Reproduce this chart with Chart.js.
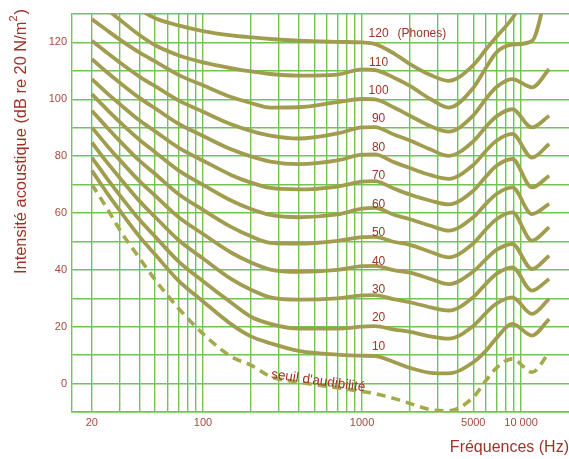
<!DOCTYPE html>
<html>
<head>
<meta charset="utf-8">
<script src="https://cdn.jsdelivr.net/npm/chart.js@4.4.1/dist/chart.umd.min.js"></script>
<style>
body{margin:0;background:#fff}
#wrap{width:569px;height:459px}
</style>
</head>
<body>
<div id="wrap"><canvas id="chart" width="569" height="459"></canvas></div>
<script>
const freqs = [20, 25, 30, 40, 50, 70, 100, 150, 200, 265, 400, 700, 1000, 1200, 1600, 2000, 2700, 3500, 5000, 6000, 7000, 8800, 11700, 15000]

// sound level (dB) of each equal-loudness contour, null = off the chart
const phon120 = [null, null, null, 131.5, 128.5, 126, 124, 122.5, 121.8, 121.2, 120.6, 120.2, 120, 119.5, 116, 112.4, 108.5, 106.5, 112, 117.5, 122, 128.5, 140, null]
const phon110 = [null, 131.5, 128, 122.5, 119, 115.5, 113, 111, 109.8, 108.9, 108.3, 108.7, 110.5, 110.3, 107.5, 104.7, 100, 97.1, 104, 111, 116.5, 119.2, 120.5, 142]
const phon100 = [128.2, 124.2, 121, 116.4, 113.3, 108.6, 104.9, 100.8, 98.7, 97.1, 97.2, 99, 100.1, 100, 97, 94.2, 90.5, 88.6, 94.3, 100.1, 104.3, 107.1, 104.2, 110.6]
const phon90 = [120.6, 116.3, 112.9, 107.9, 104.6, 99.6, 95.6, 91.2, 88.9, 87.2, 86.2, 88, 90.1, 90.2, 87.5, 85.5, 82.3, 80.1, 85.2, 90.3, 94, 96.5, 90.1, 94.2]
const phon80 = [114.1, 109.4, 105.8, 100.4, 96.8, 91.4, 87.1, 82.4, 79.9, 78.1, 77.2, 78.5, 80.5, 80.6, 77.8, 75.8, 73.3, 72, 76.9, 81.8, 85.4, 87.8, 79.5, 84.3]
const phon70 = [107.1, 102.1, 98.3, 92.5, 88.7, 83, 78.4, 73.4, 70.7, 68.8, 68.3, 69.3, 71, 71.2, 68.5, 66.5, 64.3, 63, 67.8, 72.8, 76.6, 79, 69, 73.1]
const phon60 = [101.8, 96.3, 92, 85.7, 81.4, 75, 69.9, 64.4, 61.4, 59.3, 58.5, 59.5, 61.5, 61.8, 59.3, 57.8, 55.5, 53.8, 58.5, 63.2, 66.7, 69, 59.6, 63.2]
const phon50 = [96, 90, 85.3, 78.3, 73.7, 66.7, 61.1, 55.1, 51.8, 49.5, 49.2, 50.2, 51.5, 51.6, 49.8, 48.8, 46.3, 44.4, 49.3, 54.2, 57.8, 60.2, 50.3, 55]
const phon40 = [90.1, 83.6, 78.6, 71.1, 66.1, 58.6, 52.6, 46.1, 42.6, 40.1, 39.3, 40, 41.3, 41.4, 39.8, 39, 36.8, 35, 39.4, 43.7, 47, 49.1, 40.3, 45]
const phon30 = [84.8, 77.7, 72.3, 64.1, 58.6, 50.5, 44, 36.8, 33, 30.3, 29.5, 30, 31, 31.1, 29.6, 28.6, 26.8, 25.7, 30.4, 35.1, 38.6, 40.9, 32.7, 36.8]
const phon20 = [79.5, 72, 66.2, 57.5, 51.7, 43, 36, 28.5, 23.5, 21, 19.3, 19.3, 20, 20.2, 19, 18.2, 16.6, 15.8, 20.3, 24.8, 28.1, 30.3, 24.5, 29.8]
const phon10 = [74.9, 66.9, 60.8, 51.6, 45.4, 36.2, 28.9, 20.9, 16.6, 14.2, 11.5, 10.2, 9.8, 9.7, 7.5, 5.5, 3.8, 3.6, 7.5, 11.5, 16, 21, 16.9, 22.7]
const threshold = [70, 61.5, 54, 44, 36.5, 26.5, 17.5, 9.5, 6.5, 2.5, 0.5, -1.5, -2.8, -3.5, -5.3, -7, -9.2, -9.6, -4.8, 1, 5.5, 8.7, 4, 11]

const phonLevels = [120, 110, 100, 90, 80, 70, 60, 50, 40, 30, 20, 10]
const contours = [phon120, phon110, phon100, phon90, phon80, phon70, phon60, phon50, phon40, phon30, phon20, phon10]

// axis ticks
const xGrid = [20, 30, 40, 50, 60, 70, 80, 90, 100, 200, 300, 400, 500, 600, 700, 800, 900, 1000, 2000, 3000, 4000, 5000, 6000, 7000, 8000, 9000, 10000]
const xLabelValues = [20, 100, 1000, 5000, 10000]
const xLabelText = ['20', '100', '1000', '5000', '10 000']
const yLabelValues = [0, 20, 40, 60, 80, 100, 120]

const FONT = '"Liberation Sans", Arial, sans-serif'
const curveColor = '#a09d4f'
const dashColor = '#a3aa4a'
const gridColor = '#72c453'
const tickColor = '#a34a3e'
const titleColor = '#9e3226'

function toPoints(vals){
  return freqs.map((f, i) => ({x: f, y: vals[i]})).filter(p => p.y !== null)
}

let datasets = contours.map(vals => ({
  data: toPoints(vals),
  borderColor: curveColor,
  borderWidth: 3.8,
  pointRadius: 0,
  cubicInterpolationMode: 'monotone',
  clip: 0
}))

datasets.push({
  data: toPoints(threshold),
  borderColor: dashColor,
  borderWidth: 3.6,
  borderDash: [9, 6],
  pointRadius: 0,
  cubicInterpolationMode: 'monotone',
  clip: 0
})

const textPlugin = {
  id: 'texts',
  afterDatasetsDraw(chart){
    const ctx = chart.ctx
    const x = chart.scales.x, y = chart.scales.y
    ctx.save()

    // contour labels
    ctx.fillStyle = titleColor
    ctx.font = '12px ' + FONT
    ctx.textBaseline = 'middle'
    phonLevels.forEach(p => {
      const px = x.getPixelForValue(1270)
      const py = y.getPixelForValue(p + 3)
      ctx.textAlign = 'center'
      ctx.fillText(String(p), px, py)
      if (p === 120) {
        ctx.textAlign = 'left'
        ctx.fillText('(Phones)', px + 19, py)
      }
    })

    // threshold label
    ctx.save()
    ctx.translate(x.getPixelForValue(530), y.getPixelForValue(0.9))
    ctx.rotate(8 * Math.PI / 180)
    ctx.textAlign = 'center'
    ctx.font = '13.5px ' + FONT
    ctx.fillText("seuil d'audibilité", 0, 0)
    ctx.restore()

    // y axis title with superscript
    ctx.save()
    ctx.translate(21, 142)
    ctx.rotate(-Math.PI / 2)
    ctx.fillStyle = titleColor
    ctx.textAlign = 'left'
    ctx.textBaseline = 'middle'
    const main = 'Intensité acoustique (dB re 20 N/m'
    ctx.font = '16.4px ' + FONT
    const w1 = ctx.measureText(main).width
    ctx.font = '11px ' + FONT
    const w2 = ctx.measureText('2').width
    ctx.font = '16.4px ' + FONT
    const w3 = ctx.measureText(')').width
    let sx = -(w1 + w2 + w3) / 2
    ctx.fillText(main, sx, 0)
    ctx.font = '11px ' + FONT
    ctx.fillText('2', sx + w1, -7)
    ctx.font = '16.4px ' + FONT
    ctx.fillText(')', sx + w1 + w2 + 1, 0)
    ctx.restore()

    ctx.restore()
  }
}

new Chart(document.getElementById('chart'), {
  type: 'line',
  data: {datasets: datasets},
  plugins: [textPlugin],
  options: {
    responsive: false,
    animation: false,
    layout: {padding: {top: 14, left: 0, right: 0, bottom: 0}},
    plugins: {legend: {display: false}, tooltip: {enabled: false}},
    scales: {
      x: {
        type: 'logarithmic',
        min: 15,
        max: 20000,
        afterBuildTicks: s => { s.ticks = xGrid.map(v => ({value: v})) },
        afterFit: s => { s.height = 47 },
        ticks: {
          autoSkip: false,
          maxRotation: 0,
          padding: 4,
          color: tickColor,
          font: {family: FONT, size: 11},
          callback: v => {
            const i = xLabelValues.indexOf(v)
            return i >= 0 ? xLabelText[i] : ''
          }
        },
        grid: {color: gridColor, lineWidth: 1.4, drawTicks: false},
        border: {color: gridColor, width: 1.4},
        title: {
          display: true,
          text: 'Fréquences (Hz)',
          align: 'end',
          color: titleColor,
          font: {family: FONT, size: 16},
          padding: {top: 0, bottom: 2}
        }
      },
      y: {
        min: -10,
        max: 130,
        afterFit: s => { s.width = 72 },
        ticks: {
          stepSize: 10,
          autoSkip: false,
          padding: 5,
          color: tickColor,
          font: {family: FONT, size: 11},
          callback: v => yLabelValues.includes(v) ? String(v) : ''
        },
        grid: {color: gridColor, lineWidth: 1.4, drawTicks: false},
        border: {color: gridColor, width: 1.4}
      }
    }
  }
})
</script>
</body>
</html>
